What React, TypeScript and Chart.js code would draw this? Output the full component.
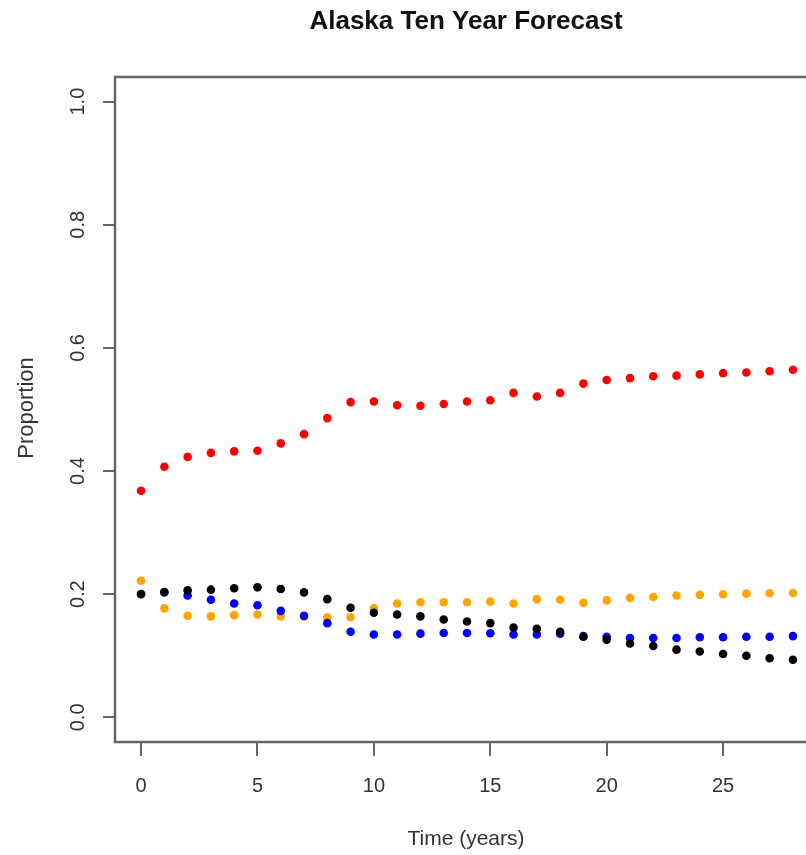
import React, { useEffect, useRef } from 'react';
import { Chart, registerables } from 'chart.js';

Chart.register(...registerables);

const years = [0, 1, 2, 3, 4, 5, 6, 7, 8, 9, 10, 11, 12, 13, 14, 15, 16, 17, 18, 19, 20, 21, 22, 23, 24, 25, 26, 27, 28];

const redSeries = [0.368, 0.407, 0.423, 0.4295, 0.432, 0.433, 0.445, 0.46, 0.486, 0.512, 0.513, 0.507, 0.506, 0.509, 0.513, 0.515, 0.527, 0.521, 0.527, 0.542, 0.548, 0.551, 0.554, 0.555, 0.557, 0.559, 0.56, 0.562, 0.5645];
const orangeSeries = [0.222, 0.177, 0.165, 0.164, 0.166, 0.167, 0.164, 0.163, 0.1626, 0.1626, 0.177, 0.185, 0.187, 0.187, 0.187, 0.188, 0.185, 0.192, 0.191, 0.186, 0.19, 0.194, 0.1955, 0.198, 0.199, 0.2, 0.201, 0.2015, 0.202];
const blackSeries = [0.2004, 0.2037, 0.2063, 0.2074, 0.2096, 0.2112, 0.2085, 0.203, 0.192, 0.178, 0.17, 0.167, 0.164, 0.159, 0.1556, 0.153, 0.146, 0.144, 0.139, 0.131, 0.126, 0.12, 0.116, 0.11, 0.107, 0.103, 0.1, 0.096, 0.0935];
const blueSeries = [0.2, 0.203, 0.198, 0.191, 0.185, 0.182, 0.173, 0.165, 0.153, 0.139, 0.1345, 0.1345, 0.136, 0.137, 0.137, 0.1365, 0.1345, 0.1345, 0.136, 0.132, 0.131, 0.129, 0.129, 0.129, 0.13, 0.13, 0.131, 0.131, 0.132];

const xTicks = [0, 5, 10, 15, 20, 25];
const yTicks = [0, 0.2, 0.4, 0.6, 0.8, 1.0];
const yTickLabels = ['0.0', '0.2', '0.4', '0.6', '0.8', '1.0'];

const titleText = 'Alaska Ten Year Forecast';
const xTitle = 'Time (years)';
const yTitle = 'Proportion';

const FONT = '"Liberation Sans", Arial, Helvetica, sans-serif';

const toPoints = (vals: number[]) => vals.map((v, i) => ({ x: years[i], y: v }));

const decoPlugin = {
  id: 'rDeco',
  beforeDatasetsDraw(chart: any) {
    const { ctx, chartArea: a } = chart;
    ctx.save();
    ctx.strokeStyle = '#666';
    ctx.lineWidth = 2.5;
    ctx.strokeRect(a.left, a.top, a.right - a.left, a.bottom - a.top);
    ctx.restore();
  },
  afterDraw(chart: any) {
    const { ctx, scales } = chart;
    const ys = scales.y;
    ctx.save();
    ctx.fillStyle = '#333';
    ctx.textAlign = 'center';
    ctx.textBaseline = 'middle';
    ctx.font = `20px ${FONT}`;
    yTicks.forEach((v, i) => {
      const py = ys.getPixelForValue(v);
      ctx.save();
      ctx.translate(78, py);
      ctx.rotate(-Math.PI / 2);
      ctx.fillText(yTickLabels[i], 0, 0);
      ctx.restore();
    });
    // y title
    ctx.font = `22px ${FONT}`;
    ctx.save();
    ctx.translate(27, 408);
    ctx.rotate(-Math.PI / 2);
    ctx.fillText(yTitle, 0, 0);
    ctx.restore();
    // x title
    ctx.font = `21px ${FONT}`;
    ctx.fillText(xTitle, 466, 839);
    // main title
    ctx.fillStyle = '#111';
    ctx.font = `bold 26px ${FONT}`;
    ctx.fillText(titleText, 466, 22);
    ctx.restore();
  },
};

export default function App() {
  const ref = useRef<HTMLCanvasElement>(null);

  useEffect(() => {
    if (!ref.current) return;
    const pt = { pointRadius: 4.3, pointBorderWidth: 0, pointHoverRadius: 4.3 };
    const chart = new Chart(ref.current, {
      type: 'scatter',
      data: {
        datasets: [
          { label: 'red', data: toPoints(redSeries), backgroundColor: '#ff0000', borderColor: '#ff0000', ...pt },
          { label: 'black', data: toPoints(blackSeries), backgroundColor: '#000000', borderColor: '#000000', ...pt },
          { label: 'blue', data: toPoints(blueSeries), backgroundColor: '#0000ff', borderColor: '#0000ff', ...pt },
          { label: 'orange', data: toPoints(orangeSeries), backgroundColor: '#ffa500', borderColor: '#ffa500', ...pt },
        ],
      },
      plugins: [decoPlugin],
      options: {
        animation: false,
        responsive: false,
        devicePixelRatio: 1,
        events: [],
        layout: { padding: { left: 0, right: 11, top: 77, bottom: 0 } },
        plugins: { legend: { display: false }, tooltip: { enabled: false }, title: { display: false } },
        scales: {
          x: {
            type: 'linear',
            min: -1.12,
            max: 29.12,
            afterBuildTicks: (s: any) => { s.ticks = xTicks.map((v) => ({ value: v })); },
            afterFit: (s: any) => { s.height = 113; },
            border: { display: false },
            grid: { drawOnChartArea: false, drawTicks: true, tickLength: 14, color: '#666', lineWidth: 2 },
            ticks: {
              font: { family: FONT, size: 20 },
              color: '#333',
              padding: 18,
              maxRotation: 0,
              minRotation: 0,
              callback: (v: any) => String(v),
            },
          },
          y: {
            type: 'linear',
            min: -0.04,
            max: 1.04,
            afterBuildTicks: (s: any) => { s.ticks = yTicks.map((v) => ({ value: v })); },
            afterFit: (s: any) => { s.width = 115; },
            border: { display: false },
            grid: { drawOnChartArea: false, drawTicks: true, tickLength: 12, color: '#666', lineWidth: 2 },
            ticks: { display: false },
          },
        },
      },
    });
    return () => chart.destroy();
  }, []);

  return (
    <div style={{ position: 'fixed', left: 0, top: 0, width: 806, height: 855, overflow: 'hidden', background: '#fff' }}>
      <canvas ref={ref} width={830} height={855} style={{ display: 'block', width: 830, height: 855 }} />
    </div>
  );
}
